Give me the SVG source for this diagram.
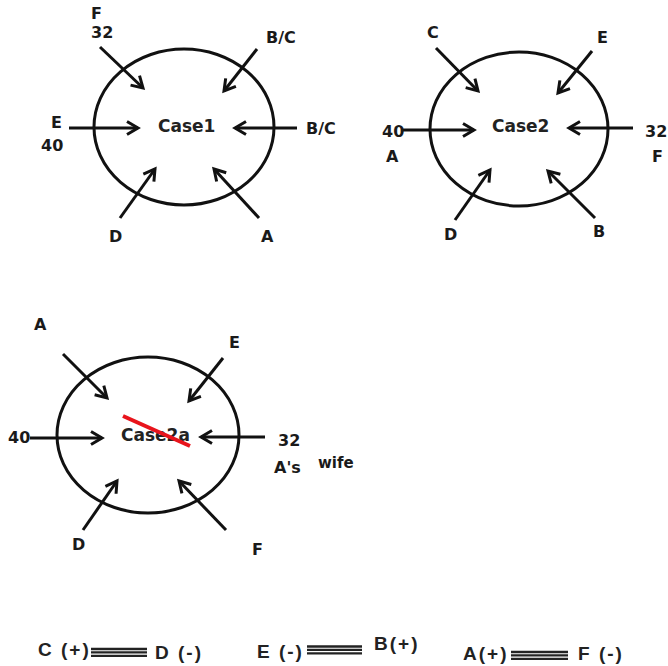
<svg xmlns="http://www.w3.org/2000/svg" width="668" height="666" viewBox="0 0 668 666">
<style>
.ell{fill:none;stroke:#111;stroke-width:3}
.con line{stroke:#111;stroke-width:3;marker-end:url(#ah)}
.lbl{font-family:"DejaVu Sans",Verdana,sans-serif;font-weight:bold;font-size:16px;fill:#1a1a1a}
.case{font-family:"DejaVu Sans",Verdana,sans-serif;font-weight:bold;font-size:17px;fill:#222}
.eq{font-family:"Liberation Sans",Arial,sans-serif;font-weight:bold;font-size:19px;letter-spacing:2px;fill:#222}
.bar{stroke:#222;stroke-width:2.3}
</style>
<defs>
<marker id="ah" markerUnits="userSpaceOnUse" markerWidth="30" markerHeight="30" viewBox="-15 -15 30 30" refX="0" refY="0" orient="auto">
<path d="M-11,-6.5 L0,0 L-11,6.5" fill="none" stroke="#111" stroke-width="3" stroke-linejoin="miter"/>
</marker>
</defs>
<rect width="668" height="666" fill="#fff"/>

<g id="case1">
<ellipse class="ell" cx="184" cy="127" rx="90" ry="78"/>
<text class="case" x="158" y="132">Case1</text>
</g>
<g id="case2">
<ellipse class="ell" cx="519" cy="129" rx="89" ry="77"/>
<text class="case" x="492" y="132">Case2</text>
</g>
<g id="case2a">
<ellipse class="ell" cx="148" cy="435" rx="91" ry="78"/>
<text class="case" x="121" y="441">Case2a</text>
<line x1="123" y1="416" x2="190" y2="446" stroke="#e8141c" stroke-width="4"/>
</g>

<g class="con" id="connectors">
<line x1="100" y1="47" x2="143" y2="88"/>
<line x1="257" y1="49" x2="224" y2="91"/>
<line x1="69" y1="128" x2="138" y2="128"/>
<line x1="297" y1="128" x2="235" y2="128"/>
<line x1="120" y1="218" x2="155" y2="169"/>
<line x1="259" y1="218" x2="214" y2="169"/>

<line x1="436" y1="48" x2="478" y2="91"/>
<line x1="592" y1="51" x2="558" y2="93"/>
<line x1="403" y1="130" x2="474" y2="130"/>
<line x1="633" y1="128" x2="569" y2="128"/>
<line x1="455" y1="220" x2="490" y2="170"/>
<line x1="595" y1="218" x2="548" y2="171"/>

<line x1="63" y1="354" x2="107" y2="398"/>
<line x1="223" y1="358" x2="189" y2="401"/>
<line x1="30" y1="438" x2="102" y2="438"/>
<line x1="265" y1="437" x2="201" y2="437"/>
<line x1="83" y1="530" x2="117" y2="481"/>
<line x1="226" y1="530" x2="179" y2="481"/>
</g>

<g id="labels1">
<text class="lbl" x="91" y="19">F</text>
<text class="lbl" x="91" y="38">32</text>
<text class="lbl" x="266" y="43">B/C</text>
<text class="lbl" x="51" y="128">E</text>
<text class="lbl" x="41" y="151">40</text>
<text class="lbl" x="306" y="134">B/C</text>
<text class="lbl" x="109" y="242">D</text>
<text class="lbl" x="261" y="242">A</text>
</g>
<g id="labels2">
<text class="lbl" x="427" y="38">C</text>
<text class="lbl" x="597" y="43">E</text>
<text class="lbl" x="382" y="137">40</text>
<text class="lbl" x="386" y="162">A</text>
<text class="lbl" x="645" y="137">32</text>
<text class="lbl" x="652" y="162">F</text>
<text class="lbl" x="444" y="240">D</text>
<text class="lbl" x="593" y="237">B</text>
</g>
<g id="labels3">
<text class="lbl" x="34" y="330">A</text>
<text class="lbl" x="229" y="348">E</text>
<text class="lbl" x="8" y="443">40</text>
<text class="lbl" x="278" y="446">32</text>
<text class="lbl" x="274" y="473">A's</text>
<text class="lbl" x="318" y="468" style="font-size:15px">wife</text>
<text class="lbl" x="72" y="550">D</text>
<text class="lbl" x="252" y="555">F</text>
</g>

<g id="legend">
<text class="eq" x="38" y="656">C (+)</text>
<line class="bar" x1="91" y1="649" x2="147" y2="649"/>
<line class="bar" x1="91" y1="652.4" x2="147" y2="652.4"/>
<line class="bar" x1="91" y1="655.8" x2="147" y2="655.8"/>
<text class="eq" x="155" y="659">D (-)</text>

<text class="eq" x="257" y="658">E (-)</text>
<line class="bar" x1="307" y1="646.5" x2="362" y2="646.5"/>
<line class="bar" x1="307" y1="649.9" x2="362" y2="649.9"/>
<line class="bar" x1="307" y1="653.3" x2="362" y2="653.3"/>
<text class="eq" x="374" y="650">B(+)</text>

<text class="eq" x="463" y="660">A(+)</text>
<line class="bar" x1="511" y1="652" x2="568" y2="652"/>
<line class="bar" x1="511" y1="655.4" x2="568" y2="655.4"/>
<line class="bar" x1="511" y1="658.8" x2="568" y2="658.8"/>
<text class="eq" x="578" y="660">F (-)</text>
</g>
</svg>
